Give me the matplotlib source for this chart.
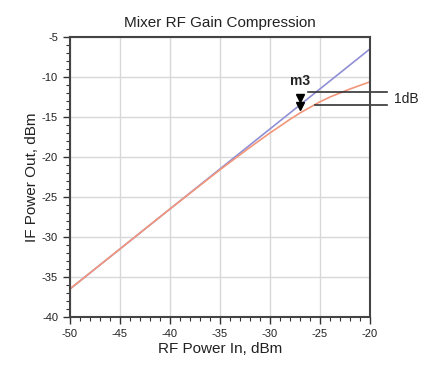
import matplotlib
matplotlib.use("Agg")
import matplotlib.pyplot as plt
from matplotlib.ticker import MultipleLocator

plt.rcParams['font.family'] = ['Liberation Sans', 'DejaVu Sans']
plt.rcParams['axes.unicode_minus'] = False

rf_in = [-50, -45, -40, -35, -32, -30, -28, -27, -26, -25, -24, -22, -20]
ideal = [-36.5, -31.5, -26.5, -21.5, -18.5, -16.5, -14.5, -13.5, -12.5, -11.5, -10.5, -8.5, -6.5]
actual = [-36.5, -31.5, -26.5, -21.6, -18.8, -17.0, -15.3, -14.5, -13.8, -13.1, -12.5, -11.5, -10.6]

marker_x = -27
marker_y = [-12.6, -13.6]
line_y = [-11.9, -13.5]

fig = plt.figure(figsize=(4.31, 3.67), dpi=100)
ax = fig.add_axes([0.162, 0.136, 0.696, 0.763])
ax.plot(rf_in, ideal, color='#8f8fd6', lw=1.2)
ax.plot(rf_in, actual, color='#f2967a', lw=1.2)
ax.set_xlim(-50, -20)
ax.set_ylim(-40, -5)
ax.xaxis.set_major_locator(MultipleLocator(5))
ax.yaxis.set_major_locator(MultipleLocator(5))
ax.xaxis.set_minor_locator(MultipleLocator(1))
ax.yaxis.set_minor_locator(MultipleLocator(1))
ax.grid(True, which='major', color='#d8d8d8', lw=1.0)
ax.tick_params(which='major', length=5, width=1, labelsize=8, color='#333333', labelcolor='#222222')
ax.tick_params(which='minor', length=3, width=0.8, color='#333333')
for s in ax.spines.values():
    s.set_color('#444444')
    s.set_linewidth(1.5)

ax.plot([marker_x, marker_x], marker_y, linestyle='none', marker='v', color='black', ms=5.5)
ax.text(marker_x - 1.0, -11.0, 'm3', fontsize=10, color='#222222', fontweight='bold')
ax.plot([-26.2, -18.3], [line_y[0], line_y[0]], color='#333333', lw=1.2, clip_on=False)
ax.plot([-25.5, -18.3], [line_y[1], line_y[1]], color='#333333', lw=1.2, clip_on=False)
ax.text(-17.6, (line_y[0] + line_y[1]) / 2, '1dB', fontsize=10, va='center', color='#222222', clip_on=False)

ax.set_title('Mixer RF Gain Compression', fontsize=11, color='#222222', pad=7)
ax.set_xlabel('RF Power In, dBm', fontsize=11, color='#222222', labelpad=2)
ax.set_ylabel('IF Power Out, dBm', fontsize=11, color='#222222', labelpad=2)

fig.savefig('out.png', dpi=100)
